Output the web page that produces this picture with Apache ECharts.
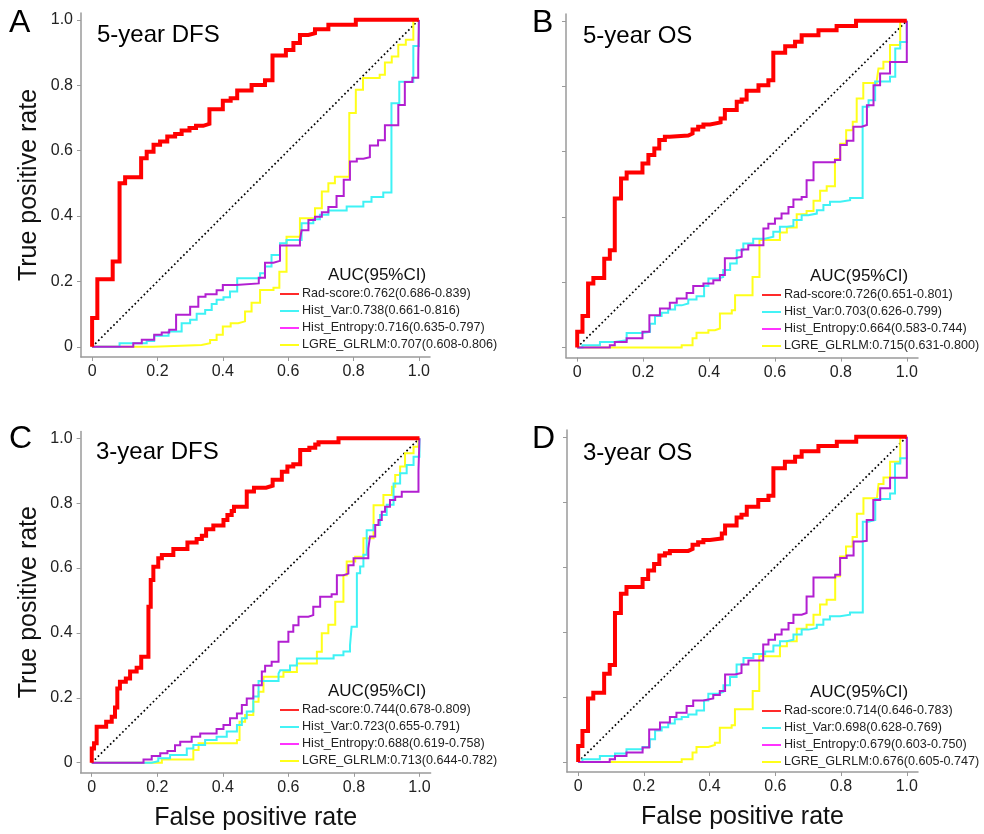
<!DOCTYPE html>
<html>
<head>
<meta charset="utf-8">
<script src="https://cdn.jsdelivr.net/npm/echarts@6/dist/echarts.min.js"></script>
<style>
  html, body { margin: 0; padding: 0; background: #ffffff; }
  #chart { width: 984px; height: 834px; }
</style>
</head>
<body>
<div id="chart"></div>
<script>
// ---- axis ticks ----
const axisTicks = [0, 0.2, 0.4, 0.6, 0.8, 1];
const tickText = ['0', '0.2', '0.4', '0.6', '0.8', '1.0'];

// ---- panel labels ----
const panelLetters = ['A', 'B', 'C', 'D'];
const panelTitles = ['5-year DFS', '5-year OS', '3-year DFS', '3-year OS'];
const markerNames = ['Rad-score', 'Hist_Var', 'Hist_Entropy', 'LGRE_GLRLM'];

// ---- AUC (95% CI) per panel, in markerNames order ----
const aucDfs5 = ['0.762(0.686-0.839)', '0.738(0.661-0.816)', '0.716(0.635-0.797)', '0.707(0.608-0.806)'];
const aucOs5  = ['0.726(0.651-0.801)', '0.703(0.626-0.799)', '0.664(0.583-0.744)', '0.715(0.631-0.800)'];
const aucDfs3 = ['0.744(0.678-0.809)', '0.723(0.655-0.791)', '0.688(0.619-0.758)', '0.713(0.644-0.782)'];
const aucOs3  = ['0.714(0.646-0.783)', '0.698(0.628-0.769)', '0.679(0.603-0.750)', '0.676(0.605-0.747)'];

// ---- ROC curves: each point = (FPR where TPR jumps, TPR after the jump) ----
// 5-year DFS
const dfs5RadFpr = [0, 0, 0.016, 0.063, 0.084, 0.101, 0.150, 0.167, 0.188, 0.208, 0.230, 0.254, 0.274, 0.298, 0.318, 0.340, 0.359, 0.400, 0.424, 0.444, 0.488, 0.529, 0.552, 0.593, 0.616, 0.636, 0.662, 0.682, 0.723, 0.807, 1];
const dfs5RadTpr = [0, 0.088, 0.207, 0.261, 0.500, 0.519, 0.577, 0.597, 0.618, 0.628, 0.643, 0.651, 0.662, 0.669, 0.676, 0.682, 0.727, 0.753, 0.760, 0.784, 0.801, 0.815, 0.891, 0.908, 0.929, 0.954, 0.959, 0.971, 0.985, 1.000, 1];
const dfs5VarFpr = [0, 0.084, 0.167, 0.190, 0.234, 0.274, 0.300, 0.320, 0.346, 0.366, 0.381, 0.402, 0.422, 0.444, 0.514, 0.529, 0.549, 0.575, 0.595, 0.641, 0.677, 0.697, 0.723, 0.779, 0.830, 0.855, 0.891, 0.916, 0.940, 0.983, 1];
const dfs5VarTpr = [0, 0.011, 0.018, 0.034, 0.047, 0.072, 0.083, 0.101, 0.113, 0.131, 0.144, 0.152, 0.169, 0.210, 0.225, 0.246, 0.281, 0.317, 0.327, 0.378, 0.390, 0.404, 0.417, 0.429, 0.444, 0.458, 0.472, 0.745, 0.811, 0.920, 1];
const dfs5EntFpr = [0, 0.126, 0.152, 0.190, 0.213, 0.236, 0.257, 0.300, 0.325, 0.347, 0.381, 0.400, 0.440, 0.510, 0.529, 0.555, 0.575, 0.636, 0.641, 0.662, 0.682, 0.703, 0.723, 0.748, 0.770, 0.789, 0.810, 0.830, 0.850, 0.875, 0.896, 0.937, 0.957, 0.980, 0.998, 1];
const dfs5EntTpr = [0, 0.011, 0.022, 0.037, 0.044, 0.052, 0.098, 0.123, 0.153, 0.161, 0.173, 0.189, 0.194, 0.211, 0.257, 0.263, 0.310, 0.327, 0.357, 0.388, 0.398, 0.412, 0.428, 0.461, 0.511, 0.567, 0.575, 0.580, 0.616, 0.632, 0.678, 0.740, 0.810, 0.823, 0.873, 1];
const dfs5LgreFpr = [0, 0.187, 0.335, 0.361, 0.381, 0.400, 0.424, 0.447, 0.468, 0.488, 0.514, 0.555, 0.573, 0.595, 0.636, 0.682, 0.703, 0.723, 0.743, 0.787, 0.807, 0.829, 0.880, 0.896, 0.917, 0.937, 0.960, 0.983, 1];
const dfs5LgreTpr = [0, 0.006, 0.011, 0.021, 0.037, 0.062, 0.072, 0.078, 0.108, 0.135, 0.174, 0.181, 0.230, 0.337, 0.393, 0.424, 0.475, 0.500, 0.520, 0.715, 0.786, 0.822, 0.832, 0.870, 0.888, 0.924, 0.939, 1.000, 1];

// 5-year OS
const os5RadFpr = [0, 0, 0.016, 0.033, 0.049, 0.082, 0.099, 0.114, 0.133, 0.150, 0.198, 0.216, 0.234, 0.249, 0.266, 0.281, 0.337, 0.350, 0.367, 0.383, 0.403, 0.435, 0.448, 0.484, 0.499, 0.514, 0.550, 0.580, 0.595, 0.631, 0.661, 0.681, 0.732, 0.787, 0.846, 1];
const os5RadTpr = [0, 0.048, 0.096, 0.196, 0.213, 0.272, 0.298, 0.456, 0.517, 0.536, 0.563, 0.589, 0.609, 0.635, 0.645, 0.649, 0.655, 0.667, 0.676, 0.683, 0.689, 0.701, 0.727, 0.752, 0.759, 0.786, 0.803, 0.818, 0.902, 0.922, 0.936, 0.956, 0.971, 0.984, 1.000, 1];
const os5VarFpr = [0, 0.016, 0.069, 0.114, 0.150, 0.198, 0.221, 0.236, 0.256, 0.276, 0.297, 0.317, 0.337, 0.362, 0.385, 0.398, 0.428, 0.443, 0.464, 0.484, 0.504, 0.534, 0.570, 0.595, 0.615, 0.636, 0.656, 0.681, 0.701, 0.727, 0.747, 0.767, 0.798, 0.828, 0.866, 0.884, 0.904, 0.949, 0.965, 0.980, 1];
const os5VarTpr = [0, 0.007, 0.017, 0.022, 0.044, 0.048, 0.073, 0.096, 0.106, 0.116, 0.129, 0.135, 0.147, 0.157, 0.188, 0.211, 0.216, 0.237, 0.257, 0.298, 0.318, 0.333, 0.339, 0.354, 0.370, 0.372, 0.390, 0.405, 0.410, 0.420, 0.436, 0.446, 0.451, 0.458, 0.737, 0.757, 0.814, 0.829, 0.915, 0.935, 1];
const os5EntFpr = [0, 0.099, 0.114, 0.150, 0.198, 0.219, 0.251, 0.281, 0.302, 0.332, 0.352, 0.383, 0.413, 0.433, 0.448, 0.479, 0.499, 0.519, 0.565, 0.580, 0.600, 0.620, 0.641, 0.656, 0.681, 0.696, 0.717, 0.782, 0.798, 0.818, 0.838, 0.863, 0.879, 0.899, 0.919, 0.949, 1];
const os5EntTpr = [0, 0.007, 0.017, 0.028, 0.048, 0.099, 0.119, 0.137, 0.150, 0.167, 0.188, 0.196, 0.206, 0.222, 0.273, 0.278, 0.300, 0.313, 0.364, 0.379, 0.395, 0.410, 0.430, 0.453, 0.461, 0.512, 0.567, 0.574, 0.620, 0.633, 0.676, 0.681, 0.742, 0.803, 0.839, 0.874, 1];
const os5LgreFpr = [0, 0.317, 0.350, 0.362, 0.398, 0.418, 0.433, 0.469, 0.479, 0.532, 0.553, 0.615, 0.636, 0.666, 0.696, 0.717, 0.737, 0.757, 0.782, 0.798, 0.816, 0.836, 0.848, 0.868, 0.909, 0.914, 0.929, 0.949, 0.980, 1];
const os5LgreTpr = [0, 0.007, 0.028, 0.045, 0.053, 0.058, 0.104, 0.114, 0.160, 0.216, 0.329, 0.352, 0.367, 0.408, 0.418, 0.449, 0.480, 0.494, 0.577, 0.624, 0.665, 0.691, 0.762, 0.810, 0.818, 0.854, 0.875, 0.926, 1.000, 1];

// 3-year DFS
const dfs3RadFpr = [0, 0, 0.007, 0.015, 0.044, 0.061, 0.071, 0.078, 0.086, 0.104, 0.117, 0.137, 0.151, 0.173, 0.180, 0.188, 0.203, 0.214, 0.249, 0.292, 0.320, 0.336, 0.349, 0.371, 0.402, 0.414, 0.427, 0.434, 0.473, 0.495, 0.532, 0.552, 0.580, 0.597, 0.615, 0.636, 0.664, 0.682, 0.692, 0.753, 1];
const dfs3RadTpr = [0, 0.044, 0.060, 0.111, 0.126, 0.142, 0.170, 0.229, 0.250, 0.260, 0.281, 0.293, 0.327, 0.481, 0.563, 0.604, 0.630, 0.640, 0.659, 0.679, 0.690, 0.700, 0.720, 0.731, 0.748, 0.764, 0.776, 0.789, 0.836, 0.848, 0.854, 0.872, 0.897, 0.913, 0.920, 0.964, 0.971, 0.981, 0.988, 1.000, 1];
const dfs3VarFpr = [0, 0.183, 0.203, 0.239, 0.290, 0.310, 0.346, 0.381, 0.412, 0.443, 0.458, 0.473, 0.493, 0.509, 0.570, 0.575, 0.605, 0.626, 0.738, 0.768, 0.788, 0.793, 0.809, 0.819, 0.829, 0.839, 0.860, 0.880, 0.900, 0.921, 0.941, 0.961, 0.982, 1];
const dfs3VarTpr = [0, 0.005, 0.014, 0.024, 0.044, 0.055, 0.070, 0.080, 0.096, 0.116, 0.137, 0.158, 0.204, 0.252, 0.275, 0.285, 0.300, 0.321, 0.331, 0.343, 0.361, 0.419, 0.584, 0.605, 0.641, 0.717, 0.733, 0.764, 0.795, 0.861, 0.892, 0.918, 0.943, 1];
const dfs3EntFpr = [0, 0.158, 0.183, 0.209, 0.231, 0.254, 0.270, 0.305, 0.331, 0.381, 0.402, 0.422, 0.443, 0.458, 0.473, 0.493, 0.519, 0.529, 0.549, 0.570, 0.600, 0.615, 0.631, 0.661, 0.676, 0.697, 0.732, 0.748, 0.768, 0.783, 0.799, 0.844, 0.849, 0.865, 0.875, 0.885, 0.895, 0.910, 0.926, 0.946, 0.997, 1];
const dfs3EntTpr = [0, 0.010, 0.021, 0.029, 0.036, 0.054, 0.065, 0.080, 0.090, 0.104, 0.116, 0.137, 0.152, 0.178, 0.198, 0.239, 0.281, 0.299, 0.311, 0.373, 0.404, 0.424, 0.450, 0.455, 0.481, 0.512, 0.519, 0.578, 0.583, 0.609, 0.630, 0.660, 0.697, 0.733, 0.748, 0.774, 0.789, 0.810, 0.820, 0.835, 0.902, 1];
const dfs3LgreFpr = [0, 0.214, 0.310, 0.326, 0.443, 0.451, 0.468, 0.493, 0.509, 0.524, 0.585, 0.626, 0.687, 0.702, 0.722, 0.743, 0.768, 0.778, 0.804, 0.829, 0.860, 0.890, 0.916, 0.926, 0.941, 0.956, 0.982, 0.997, 1];
const dfs3LgreTpr = [0, 0.010, 0.039, 0.060, 0.070, 0.126, 0.147, 0.188, 0.219, 0.265, 0.280, 0.306, 0.342, 0.399, 0.425, 0.496, 0.578, 0.620, 0.635, 0.692, 0.794, 0.825, 0.851, 0.887, 0.913, 0.954, 0.974, 1.000, 1];

// 3-year OS
const os3RadFpr = [0, 0, 0.013, 0.030, 0.046, 0.079, 0.096, 0.112, 0.130, 0.147, 0.196, 0.213, 0.231, 0.247, 0.264, 0.279, 0.335, 0.348, 0.365, 0.381, 0.401, 0.437, 0.447, 0.482, 0.497, 0.513, 0.548, 0.579, 0.594, 0.629, 0.660, 0.680, 0.731, 0.787, 0.846, 1];
const os3RadTpr = [0, 0.049, 0.095, 0.195, 0.213, 0.271, 0.298, 0.458, 0.517, 0.538, 0.563, 0.589, 0.609, 0.635, 0.642, 0.649, 0.655, 0.668, 0.676, 0.683, 0.687, 0.703, 0.727, 0.752, 0.760, 0.785, 0.806, 0.819, 0.903, 0.923, 0.939, 0.956, 0.972, 0.985, 1.000, 1];
const os3VarFpr = [0, 0.013, 0.066, 0.112, 0.147, 0.196, 0.218, 0.234, 0.254, 0.274, 0.294, 0.315, 0.335, 0.360, 0.383, 0.396, 0.426, 0.442, 0.462, 0.482, 0.503, 0.533, 0.569, 0.594, 0.614, 0.635, 0.655, 0.680, 0.701, 0.726, 0.746, 0.766, 0.797, 0.827, 0.866, 0.883, 0.904, 0.949, 0.964, 0.980, 1];
const os3VarTpr = [0, 0.008, 0.018, 0.026, 0.039, 0.046, 0.070, 0.097, 0.107, 0.118, 0.131, 0.138, 0.146, 0.158, 0.189, 0.210, 0.216, 0.236, 0.261, 0.300, 0.320, 0.332, 0.340, 0.358, 0.371, 0.376, 0.392, 0.407, 0.412, 0.422, 0.438, 0.448, 0.453, 0.460, 0.739, 0.744, 0.809, 0.826, 0.918, 0.934, 1];
const os3EntFpr = [0, 0.096, 0.112, 0.147, 0.196, 0.216, 0.249, 0.279, 0.299, 0.330, 0.350, 0.381, 0.411, 0.431, 0.447, 0.477, 0.497, 0.518, 0.563, 0.579, 0.599, 0.619, 0.640, 0.655, 0.680, 0.695, 0.716, 0.782, 0.797, 0.817, 0.838, 0.863, 0.878, 0.898, 0.919, 0.949, 1];
const os3EntTpr = [0, 0.008, 0.018, 0.029, 0.044, 0.100, 0.121, 0.138, 0.151, 0.172, 0.189, 0.195, 0.206, 0.218, 0.269, 0.274, 0.300, 0.312, 0.361, 0.376, 0.392, 0.407, 0.427, 0.453, 0.458, 0.509, 0.567, 0.576, 0.627, 0.635, 0.678, 0.680, 0.744, 0.806, 0.842, 0.874, 1];
const os3LgreFpr = [0, 0.315, 0.348, 0.360, 0.396, 0.416, 0.431, 0.467, 0.477, 0.531, 0.551, 0.614, 0.635, 0.665, 0.695, 0.716, 0.736, 0.756, 0.782, 0.797, 0.815, 0.835, 0.848, 0.868, 0.909, 0.914, 0.929, 0.949, 0.980, 1];
const os3LgreTpr = [0, 0.008, 0.029, 0.046, 0.052, 0.059, 0.105, 0.113, 0.162, 0.218, 0.325, 0.356, 0.371, 0.410, 0.422, 0.453, 0.484, 0.499, 0.571, 0.632, 0.663, 0.692, 0.763, 0.811, 0.817, 0.855, 0.875, 0.923, 1.000, 1];

// chance line
const chanceFpr = [0, 1];
const chanceTpr = [0, 1];

// ---- styling ----
const FONT = '"Liberation Sans", Arial, Helvetica, sans-serif';
const curveColors = ['#ff0000', '#3ff2f5', '#b21fd1', '#ffff1a'];
const legendColors = ['#ff2a2a', '#44f3f6', '#ff33ff', '#ffff1a'];
const curveWidths = [4, 2, 2, 2];
const AXIS_GRAY = '#9a9a9a';
const X_MIN = -0.034, X_MAX = 1.034, Y_MIN = -0.031, Y_MAX = 1.021;

const zip = (xs, ys) => xs.map((x, i) => [x, ys[i]]);

const panels = [
  { grid: { left: 81, top: 13, width: 349, height: 344 }, yLabels: true, xName: false,
    curves: [[dfs5RadFpr, dfs5RadTpr], [dfs5VarFpr, dfs5VarTpr], [dfs5EntFpr, dfs5EntTpr], [dfs5LgreFpr, dfs5LgreTpr]],
    auc: aucDfs5, letter: [9, 23], title: [97, 35], legend: [280, 294] },
  { grid: { left: 566, top: 14, width: 352, height: 343.6 }, yLabels: false, xName: false,
    curves: [[os5RadFpr, os5RadTpr], [os5VarFpr, os5VarTpr], [os5EntFpr, os5EntTpr], [os5LgreFpr, os5LgreTpr]],
    auc: aucOs5, letter: [532, 23], title: [583, 36], legend: [762, 295] },
  { grid: { left: 80.6, top: 431.5, width: 350, height: 341.3 }, yLabels: true, xName: true,
    curves: [[dfs3RadFpr, dfs3RadTpr], [dfs3VarFpr, dfs3VarTpr], [dfs3EntFpr, dfs3EntTpr], [dfs3LgreFpr, dfs3LgreTpr]],
    auc: aucDfs3, letter: [9, 439], title: [96, 452], legend: [280, 710] },
  { grid: { left: 567, top: 430, width: 351, height: 342 }, yLabels: false, xName: true,
    curves: [[os3RadFpr, os3RadTpr], [os3VarFpr, os3VarTpr], [os3EntFpr, os3EntTpr], [os3LgreFpr, os3LgreTpr]],
    auc: aucOs3, letter: [532, 439], title: [583, 453], legend: [762, 711] }
];

const labelFmt = v => {
  const i = axisTicks.findIndex(t => Math.abs(t - v) < 1e-6);
  return i >= 0 ? tickText[i] : '';
};

const grids = [], xAxes = [], yAxes = [], series = [], graphics = [];
// draw order: chance line, then LGRE, Hist_Var, Hist_Entropy, Rad-score on top
const drawOrder = [3, 1, 2, 0];

panels.forEach((p, k) => {
  grids.push(Object.assign({ containLabel: false }, p.grid));
  xAxes.push({
    type: 'value', gridIndex: k, min: X_MIN, max: X_MAX,
    name: p.xName ? 'False positive rate' : '', nameLocation: 'middle', nameGap: 33,
    nameTextStyle: { fontFamily: FONT, fontSize: 25, color: '#111' },
    axisLine: { show: true, onZero: false, lineStyle: { color: AXIS_GRAY, width: 1.5 } },
    axisTick: { show: true, customValues: axisTicks, length: 4, lineStyle: { color: AXIS_GRAY, width: 1 } },
    axisLabel: { show: true, customValues: axisTicks, formatter: labelFmt, margin: 7,
      fontFamily: FONT, fontSize: 16, color: '#222' },
    splitLine: { show: false }
  });
  yAxes.push({
    type: 'value', gridIndex: k, min: Y_MIN, max: Y_MAX,
    name: p.yLabels ? 'True positive rate' : '', nameLocation: 'middle', nameGap: 39,
    nameTextStyle: { fontFamily: FONT, fontSize: 25, color: '#111' },
    axisLine: { show: true, onZero: false, lineStyle: { color: AXIS_GRAY, width: 1.5 } },
    axisTick: { show: true, customValues: axisTicks, length: 4, lineStyle: { color: AXIS_GRAY, width: 1 } },
    axisLabel: { show: p.yLabels, customValues: axisTicks, formatter: labelFmt, margin: 8,
      fontFamily: FONT, fontSize: 16, color: '#222' },
    splitLine: { show: false }
  });

  series.push({
    type: 'line', xAxisIndex: k, yAxisIndex: k, data: zip(chanceFpr, chanceTpr),
    showSymbol: false, silent: true,
    lineStyle: { color: '#000', width: 1.7, type: [1.7, 2.6] }
  });
  drawOrder.forEach(m => {
    series.push({
      type: 'line', name: markerNames[m], xAxisIndex: k, yAxisIndex: k,
      data: zip(p.curves[m][0], p.curves[m][1]), step: 'end',
      showSymbol: false, silent: true,
      lineStyle: { color: curveColors[m], width: curveWidths[m], join: 'miter' }
    });
  });

  // panel letter and title
  graphics.push({ type: 'text', x: p.letter[0], y: p.letter[1],
    style: { text: panelLetters[k], font: '32px ' + FONT, fill: '#000',
      verticalAlign: 'middle', textVerticalAlign: 'middle' } });
  graphics.push({ type: 'text', x: p.title[0], y: p.title[1],
    style: { text: panelTitles[k], font: '24px ' + FONT, fill: '#000',
      verticalAlign: 'middle', textVerticalAlign: 'middle' } });

  // AUC legend
  const [lx, ly] = p.legend;
  graphics.push({ type: 'text', x: lx + 97, y: ly - 19,
    style: { text: 'AUC(95%CI)', font: '17px ' + FONT, fill: '#111',
      align: 'center', textAlign: 'center', verticalAlign: 'middle', textVerticalAlign: 'middle' } });
  markerNames.forEach((nm, m) => {
    const yy = ly + m * 17;
    graphics.push({ type: 'line', shape: { x1: lx, y1: yy, x2: lx + 19, y2: yy },
      style: { stroke: legendColors[m], lineWidth: 2 } });
    graphics.push({ type: 'text', x: lx + 22, y: yy,
      style: { text: nm + ':' + p.auc[m], font: '12.6px ' + FONT, fill: '#222',
        verticalAlign: 'middle', textVerticalAlign: 'middle' } });
  });
});

const chart = echarts.init(document.getElementById('chart'), null, { renderer: 'canvas' });
chart.setOption({
  backgroundColor: '#ffffff',
  animation: false,
  grid: grids,
  xAxis: xAxes,
  yAxis: yAxes,
  series: series,
  graphic: { elements: graphics }
});
</script>
</body>
</html>
